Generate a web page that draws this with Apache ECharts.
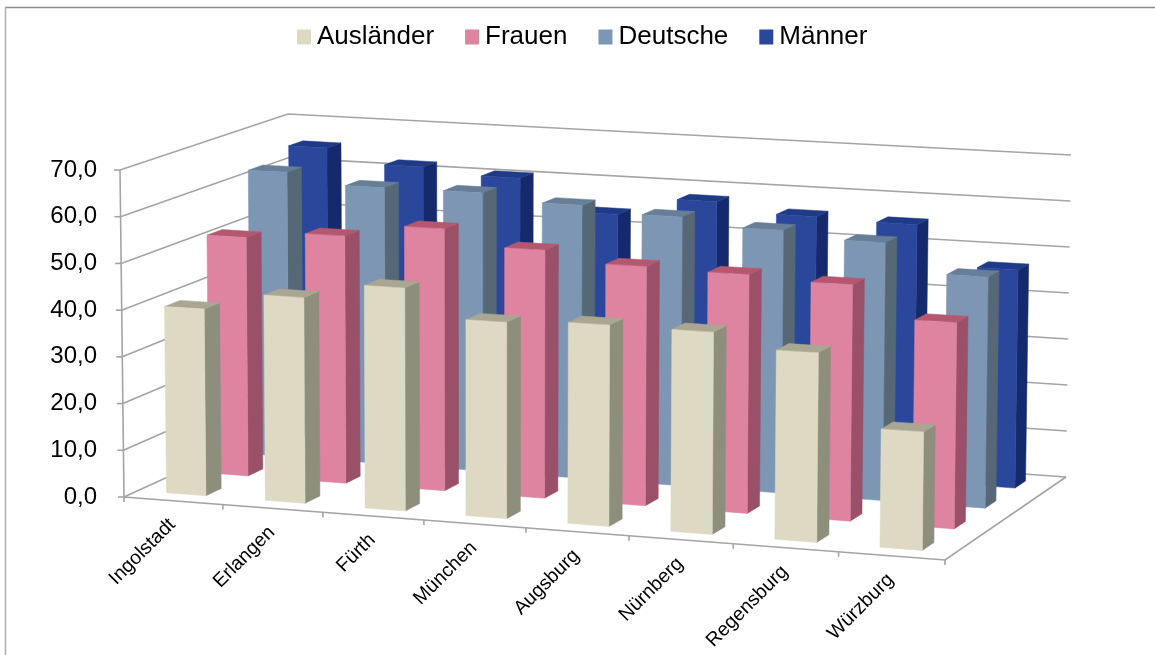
<!DOCTYPE html>
<html><head><meta charset="utf-8">
<style>html,body{margin:0;padding:0;background:#fff}#c{width:1155px;height:655px}</style>
<script src="https://cdn.jsdelivr.net/npm/echarts@6/dist/echarts.min.js"></script>
</head><body><div id="c"></div>
<script>
const categories = ['Ingolstadt','Erlangen','Fürth','München','Augsburg','Nürnberg','Regensburg','Würzburg'];
const auslaender = [40.0,43.8,47.2,41.3,42.1,42.0,39.1,24.3];
const frauen     = [51.9,53.5,56.3,53.0,50.8,50.4,49.6,43.0];
const deutsche   = [62.9,60.7,60.8,59.3,58.0,56.4,55.0,49.0];
const maenner    = [65.2,62.1,60.8,54.0,58.0,56.0,55.5,47.0];
const yTicks = [0,10,20,30,40,50,60,70];
const legendOrder = ['Ausländer','Frauen','Deutsche','Männer'];

// camera: where the plot box's corners land on screen
const GRID = {left:120, top:170, width:825, height:327};
const FLOOR = [[124,497],[945,560],[1066,477],[290,421]];
const CEIL  = [[120,170],[949,216],[1071,155],[288,114]];
function homography(q){
  const [a,b,c,d]=q;
  const dx1=b[0]-c[0],dx2=d[0]-c[0],sx=a[0]-b[0]+c[0]-d[0];
  const dy1=b[1]-c[1],dy2=d[1]-c[1],sy=a[1]-b[1]+c[1]-d[1];
  const den=dx1*dy2-dx2*dy1;
  const g=(sx*dy2-dx2*sy)/den,h=(dx1*sy-sx*dy1)/den;
  const A=b[0]-a[0]+g*b[0],B=d[0]-a[0]+h*d[0],C=a[0];
  const D=b[1]-a[1]+g*b[1],E=d[1]-a[1]+h*d[1],F=a[1];
  return (p,w)=>{const k=g*p+h*w+1;return [(A*p+B*w+C)/k,(D*p+E*w+F)/k];};
}
const floorH=homography(FLOOR), ceilH=homography(CEIL);
function project(p,w,t){
  const f=floorH(p,w),c=ceilH(p,w);
  return [f[0]+(c[0]-f[0])*t,f[1]+(c[1]-f[1])*t];
}
const pOf=x=>(x-GRID.left)/GRID.width;
const tOf=y=>(GRID.top+GRID.height-y)/GRID.height;

const BAR_L=0.21, BAR_R=0.19, DEPTH_LO=0.32, DEPTH_HI=0.68;
function barSeries(name,values,row,col){
  return {
    type:'custom',name,coordinateSystem:'cartesian2d',z:3+(3-row),silent:true,animation:false,
    itemStyle:{color:col.front},
    encode:{x:0,y:1},
    data:values.map((v,i)=>[i,v]),
    renderItem(params,api){
      const c=api.coord([api.value(0),api.value(1)]);
      const bw=api.size([1,0])[0];
      const p0=pOf(c[0]-BAR_L*bw),p1=pOf(c[0]+BAR_R*bw),t=tOf(c[1]);
      const w0=(row+DEPTH_LO)/4,w1=(row+DEPTH_HI)/4;
      const poly=(pts,fill)=>({type:'polygon',shape:{points:pts},style:{fill,stroke:fill,lineWidth:0.5}});
      return {type:'group',children:[
        poly([project(p1,w0,0),project(p1,w1,0),project(p1,w1,t),project(p1,w0,t)],col.side),
        poly([project(p0,w0,t),project(p1,w0,t),project(p1,w1,t),project(p0,w1,t)],col.top),
        poly([project(p0,w0,0),project(p1,w0,0),project(p1,w0,t),project(p0,w0,t)],col.front)
      ]};
    }
  };
}
const LINE={stroke:'#a4a4a4',lineWidth:1.6,fill:null};
const wallSeries={
  type:'custom',name:'walls',z:1,silent:true,animation:false,encode:{x:0,y:1},
  data:yTicks.map(v=>[0,v]),
  renderItem(params,api){
    const t=tOf(api.coord([0,api.value(1)])[1]);
    const a=project(0,0,t);
    return {type:'group',children:[
      {type:'polyline',shape:{points:[a,project(0,1,t),project(1,1,t)]},style:LINE},
      {type:'line',shape:{x1:a[0]-6,y1:a[1],x2:a[0],y2:a[1]},style:LINE}
    ]};
  }
};
const frameSeries={
  type:'custom',name:'frame',z:2,silent:true,animation:false,encode:{x:0,y:1},
  data:[[0,70]],
  renderItem(params,api){
    const t=tOf(api.coord([0,api.value(1)])[1]);
    const bw=api.size([1,0])[0];
    const kids=[
      {type:'polyline',shape:{points:[project(0,0,t),project(0,0,0),project(1,0,0),project(1,1,0)]},style:LINE}
    ];
    for(let i=0;i<=categories.length;i++){
      const q=project(pOf(GRID.left+i*bw),0,0);
      kids.push({type:'line',shape:{x1:q[0],y1:q[1],x2:q[0],y2:q[1]+5},style:LINE});
    }
    return {type:'group',children:kids};
  }
};
const labelSeries={
  type:'custom',name:'labels',z:8,silent:true,animation:false,encode:{x:0,y:1},
  data:categories.map((n,i)=>[i,0]),
  renderItem(params,api){
    const i=api.value(0),c=api.coord([i,0]);
    const q=project(pOf(c[0]),0,0);
    return {type:'text',x:q[0]-1,y:q[1]+21,rotation:Math.PI/4,
      style:{text:categories[i],font:'19.5px "Liberation Sans"',fill:'#000',align:'right',verticalAlign:'middle'}};
  }
};
const colors={
  a:{front:'#DDD9C3',side:'#8E8E7C',top:'#A9A692'},
  f:{front:'#DE83A0',side:'#9A5068',top:'#B5586F'},
  d:{front:'#7C96B3',side:'#566876',top:'#677E98'},
  m:{front:'#2A479B',side:'#142A6C',top:'#1F3A86'}
};
const chart=echarts.init(document.getElementById('c'),null,{renderer:'canvas'});
chart.setOption({
  animation:false,backgroundColor:'#fff',
  grid:{...GRID,containLabel:false},
  legend:{data:legendOrder,top:19,left:292,icon:'rect',itemWidth:14,itemHeight:15,itemGap:31,
    selectedMode:false,textStyle:{fontFamily:'Liberation Sans',fontSize:26,color:'#000',padding:[0,0,0,1]}},
  xAxis:{type:'category',data:categories,show:false,boundaryGap:true},
  yAxis:{type:'value',min:0,max:70,interval:10,
    axisLine:{show:false},axisTick:{show:false},splitLine:{show:false},
    axisLabel:{margin:23,padding:[3,0,0,0],fontFamily:'Liberation Sans',fontSize:24,color:'#000',
      formatter:v=>v.toFixed(1).replace('.',',')}},
  graphic:[
    {type:'line',z:0,shape:{x1:5,y1:7.5,x2:1155,y2:7.5},style:{stroke:'#8c8c8c',lineWidth:1.5}},
    {type:'line',z:0,shape:{x1:5.5,y1:7,x2:5.5,y2:655},style:{stroke:'#b0b0b0',lineWidth:1.5}}
  ],
  series:[wallSeries,frameSeries,
    barSeries('Männer',maenner,3,colors.m),
    barSeries('Deutsche',deutsche,2,colors.d),
    barSeries('Frauen',frauen,1,colors.f),
    barSeries('Ausländer',auslaender,0,colors.a),
    labelSeries]
});
</script></body></html>
